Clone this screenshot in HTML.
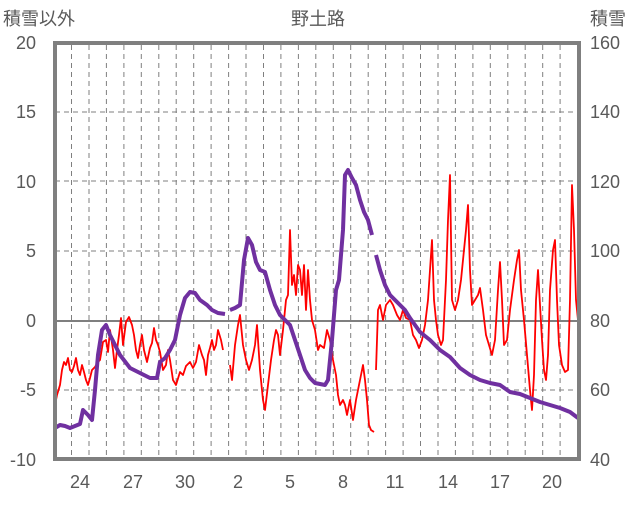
<!DOCTYPE html>
<html><head><meta charset="utf-8"><style>
html,body{margin:0;padding:0;background:#fff}
svg text{font-family:"Liberation Sans","Noto Sans CJK JP",sans-serif;fill:#595959;font-size:18px}
</style></head><body>
<svg width="636" height="501" viewBox="0 0 636 501" xmlns="http://www.w3.org/2000/svg">
<g stroke="#7f7f7f" stroke-width="1" stroke-dasharray="5,4">
<line x1="55" y1="112" x2="580" y2="112"/><line x1="55" y1="181" x2="580" y2="181"/>
<line x1="55" y1="251" x2="580" y2="251"/><line x1="55" y1="390" x2="580" y2="390"/>
<g id="v"></g>
</g>
<g stroke="#7f7f7f" stroke-width="1" stroke-dasharray="5,4">
<line x1="71.5" y1="45" x2="71.5" y2="458"/><line x1="89" y1="45" x2="89" y2="458"/><line x1="106.4" y1="45" x2="106.4" y2="458"/><line x1="123.9" y1="45" x2="123.9" y2="458"/><line x1="141.3" y1="45" x2="141.3" y2="458"/><line x1="158.8" y1="45" x2="158.8" y2="458"/><line x1="176.2" y1="45" x2="176.2" y2="458"/><line x1="193.7" y1="45" x2="193.7" y2="458"/><line x1="211.1" y1="45" x2="211.1" y2="458"/><line x1="228.6" y1="45" x2="228.6" y2="458"/><line x1="246" y1="45" x2="246" y2="458"/><line x1="263.5" y1="45" x2="263.5" y2="458"/><line x1="280.9" y1="45" x2="280.9" y2="458"/><line x1="298.4" y1="45" x2="298.4" y2="458"/><line x1="315.8" y1="45" x2="315.8" y2="458"/><line x1="333.3" y1="45" x2="333.3" y2="458"/><line x1="350.7" y1="45" x2="350.7" y2="458"/><line x1="368.2" y1="45" x2="368.2" y2="458"/><line x1="385.6" y1="45" x2="385.6" y2="458"/><line x1="403.1" y1="45" x2="403.1" y2="458"/><line x1="420.5" y1="45" x2="420.5" y2="458"/><line x1="438" y1="45" x2="438" y2="458"/><line x1="455.4" y1="45" x2="455.4" y2="458"/><line x1="472.9" y1="45" x2="472.9" y2="458"/><line x1="490.3" y1="45" x2="490.3" y2="458"/><line x1="507.8" y1="45" x2="507.8" y2="458"/><line x1="525.2" y1="45" x2="525.2" y2="458"/><line x1="542.7" y1="45" x2="542.7" y2="458"/><line x1="560.1" y1="45" x2="560.1" y2="458"/>
</g>
<line x1="55" y1="321" x2="580" y2="321" stroke="#7f7f7f" stroke-width="2"/>
<polyline fill="none" stroke="#ff0000" stroke-width="1.8" stroke-linejoin="round" points="54,410 57,395 60,385 62,370 64,362 66,365 68,358 70,370 72,372 74,366 76,358 78,370 80,375 82,365 84,372 86,380 88,385 90,378 92,370 95,367 98,362 100,360 103,342 106,340 108,352 110,330 113,350 115,368 117,350 119,335 121,318 123,345 126,322 129,317 132,325 134,335 136,350 138,358 140,345 142,335 144,350 147,362 150,348 152,343 154,328 156,340 158,345 160,352 163,370 166,365 168,350 170,360 173,380 176,385 180,372 183,375 186,366 190,362 193,368 196,362 199,345 202,355 204,360 206,375 208,355 210,348 212,340 214,350 216,345 218,330 221,340 223,350"/>
<polyline fill="none" stroke="#ff0000" stroke-width="1.8" stroke-linejoin="round" points="230,365 232,380 235,345 238,325 240,315 243,345 246,360 249,370 252,360 255,345 257,325 260,370 263,400 265,410 268,385 271,360 274,340 276,330 278,335 280,355 283,330 286,300 288,295 290,230 292,285 294,275 296,295 298,265 300,270 302,295 304,265 306,310 308,270 310,300 312,320 315,330 318,350 320,345 324,348 327,330 330,340 333,360 336,375 338,395 340,405 343,400 345,405 347,415 350,400 353,420 356,400 358,390 360,380 363,365 365,380 367,400 369,425 371,430 374,432"/>
<polyline fill="none" stroke="#ff0000" stroke-width="1.8" stroke-linejoin="round" points="376,370 378,310 380,305 383,320 386,305 390,300 393,305 397,315 400,320 403,310 406,318 410,320 413,335 416,340 419,348 422,340 425,325 428,300 430,270 432,240 434,300 436,320 438,335 441,345 443,340 446,280 448,220 450,175 452,300 455,310 458,300 461,280 464,250 466,230 468,205 470,270 472,305 475,300 478,295 480,288 483,310 486,335 489,345 492,355 495,340 498,290 500,262 502,300 504,345 507,340 510,310 514,280 517,260 519,250 521,290 524,320 527,355 530,390 532,410 534,375 536,300 538,270 540,305 542,340 544,370 546,380 548,355 550,290 553,250 555,240 557,300 559,345 562,365 565,372 568,370 570,300 572,185 574,230 576,300 578,320 580,330"/>
<polyline fill="none" stroke="#7030a0" stroke-width="4" stroke-linejoin="round" points="55,428 60,425 65,426 70,428 75,426 80,424 83,410 88,415 92,420 95,390 98,355 102,330 106,325 110,335 115,345 120,355 130,368 140,373 150,378 157,378 160,362 165,358 170,350 175,340 180,315 185,298 190,292 195,293 200,300 207,305 212,310 218,313 225,314"/>
<polyline fill="none" stroke="#7030a0" stroke-width="4" stroke-linejoin="round" points="230,310 235,308 240,305 244,260 248,238 252,245 256,262 260,270 265,272 270,290 275,305 280,315 285,320 290,325 295,340 300,355 305,370 310,378 315,383 320,384 325,385 328,380 332,340 336,290 339,280 343,230 345,175 348,170 352,178 356,185 360,200 364,212 368,220 372,235"/>
<polyline fill="none" stroke="#7030a0" stroke-width="4" stroke-linejoin="round" points="376,255 380,270 385,285 390,295 395,300 400,305 405,310 410,318 415,325 420,332 430,340 440,350 450,357 460,368 470,375 480,380 490,383 500,385 510,392 520,394 530,398 540,402 550,405 560,408 570,412 578,418"/>
<rect x="55" y="43" width="524" height="416" fill="none" stroke="#7f7f7f" stroke-width="4"/>
<text x="318" y="25" text-anchor="middle">野土路</text>
<text x="3" y="25">積雪以外</text>
<text x="590" y="25">積雪</text>
<g text-anchor="end">
<text x="36" y="49">20</text><text x="36" y="118">15</text><text x="36" y="188">10</text><text x="36" y="257">5</text><text x="36" y="327">0</text><text x="36" y="396">-5</text><text x="36" y="466">-10</text>
</g>
<g>
<text x="590" y="49">160</text><text x="590" y="118">140</text><text x="590" y="188">120</text><text x="590" y="257">100</text><text x="590" y="327">80</text><text x="590" y="396">60</text><text x="590" y="466">40</text>
</g>
<g text-anchor="middle">
<text x="80" y="488">24</text><text x="133" y="488">27</text><text x="185" y="488">30</text><text x="238" y="488">2</text><text x="290" y="488">5</text><text x="343" y="488">8</text><text x="395" y="488">11</text><text x="448" y="488">14</text><text x="500" y="488">17</text><text x="552" y="488">20</text>
</g>
</svg>
</body></html>
